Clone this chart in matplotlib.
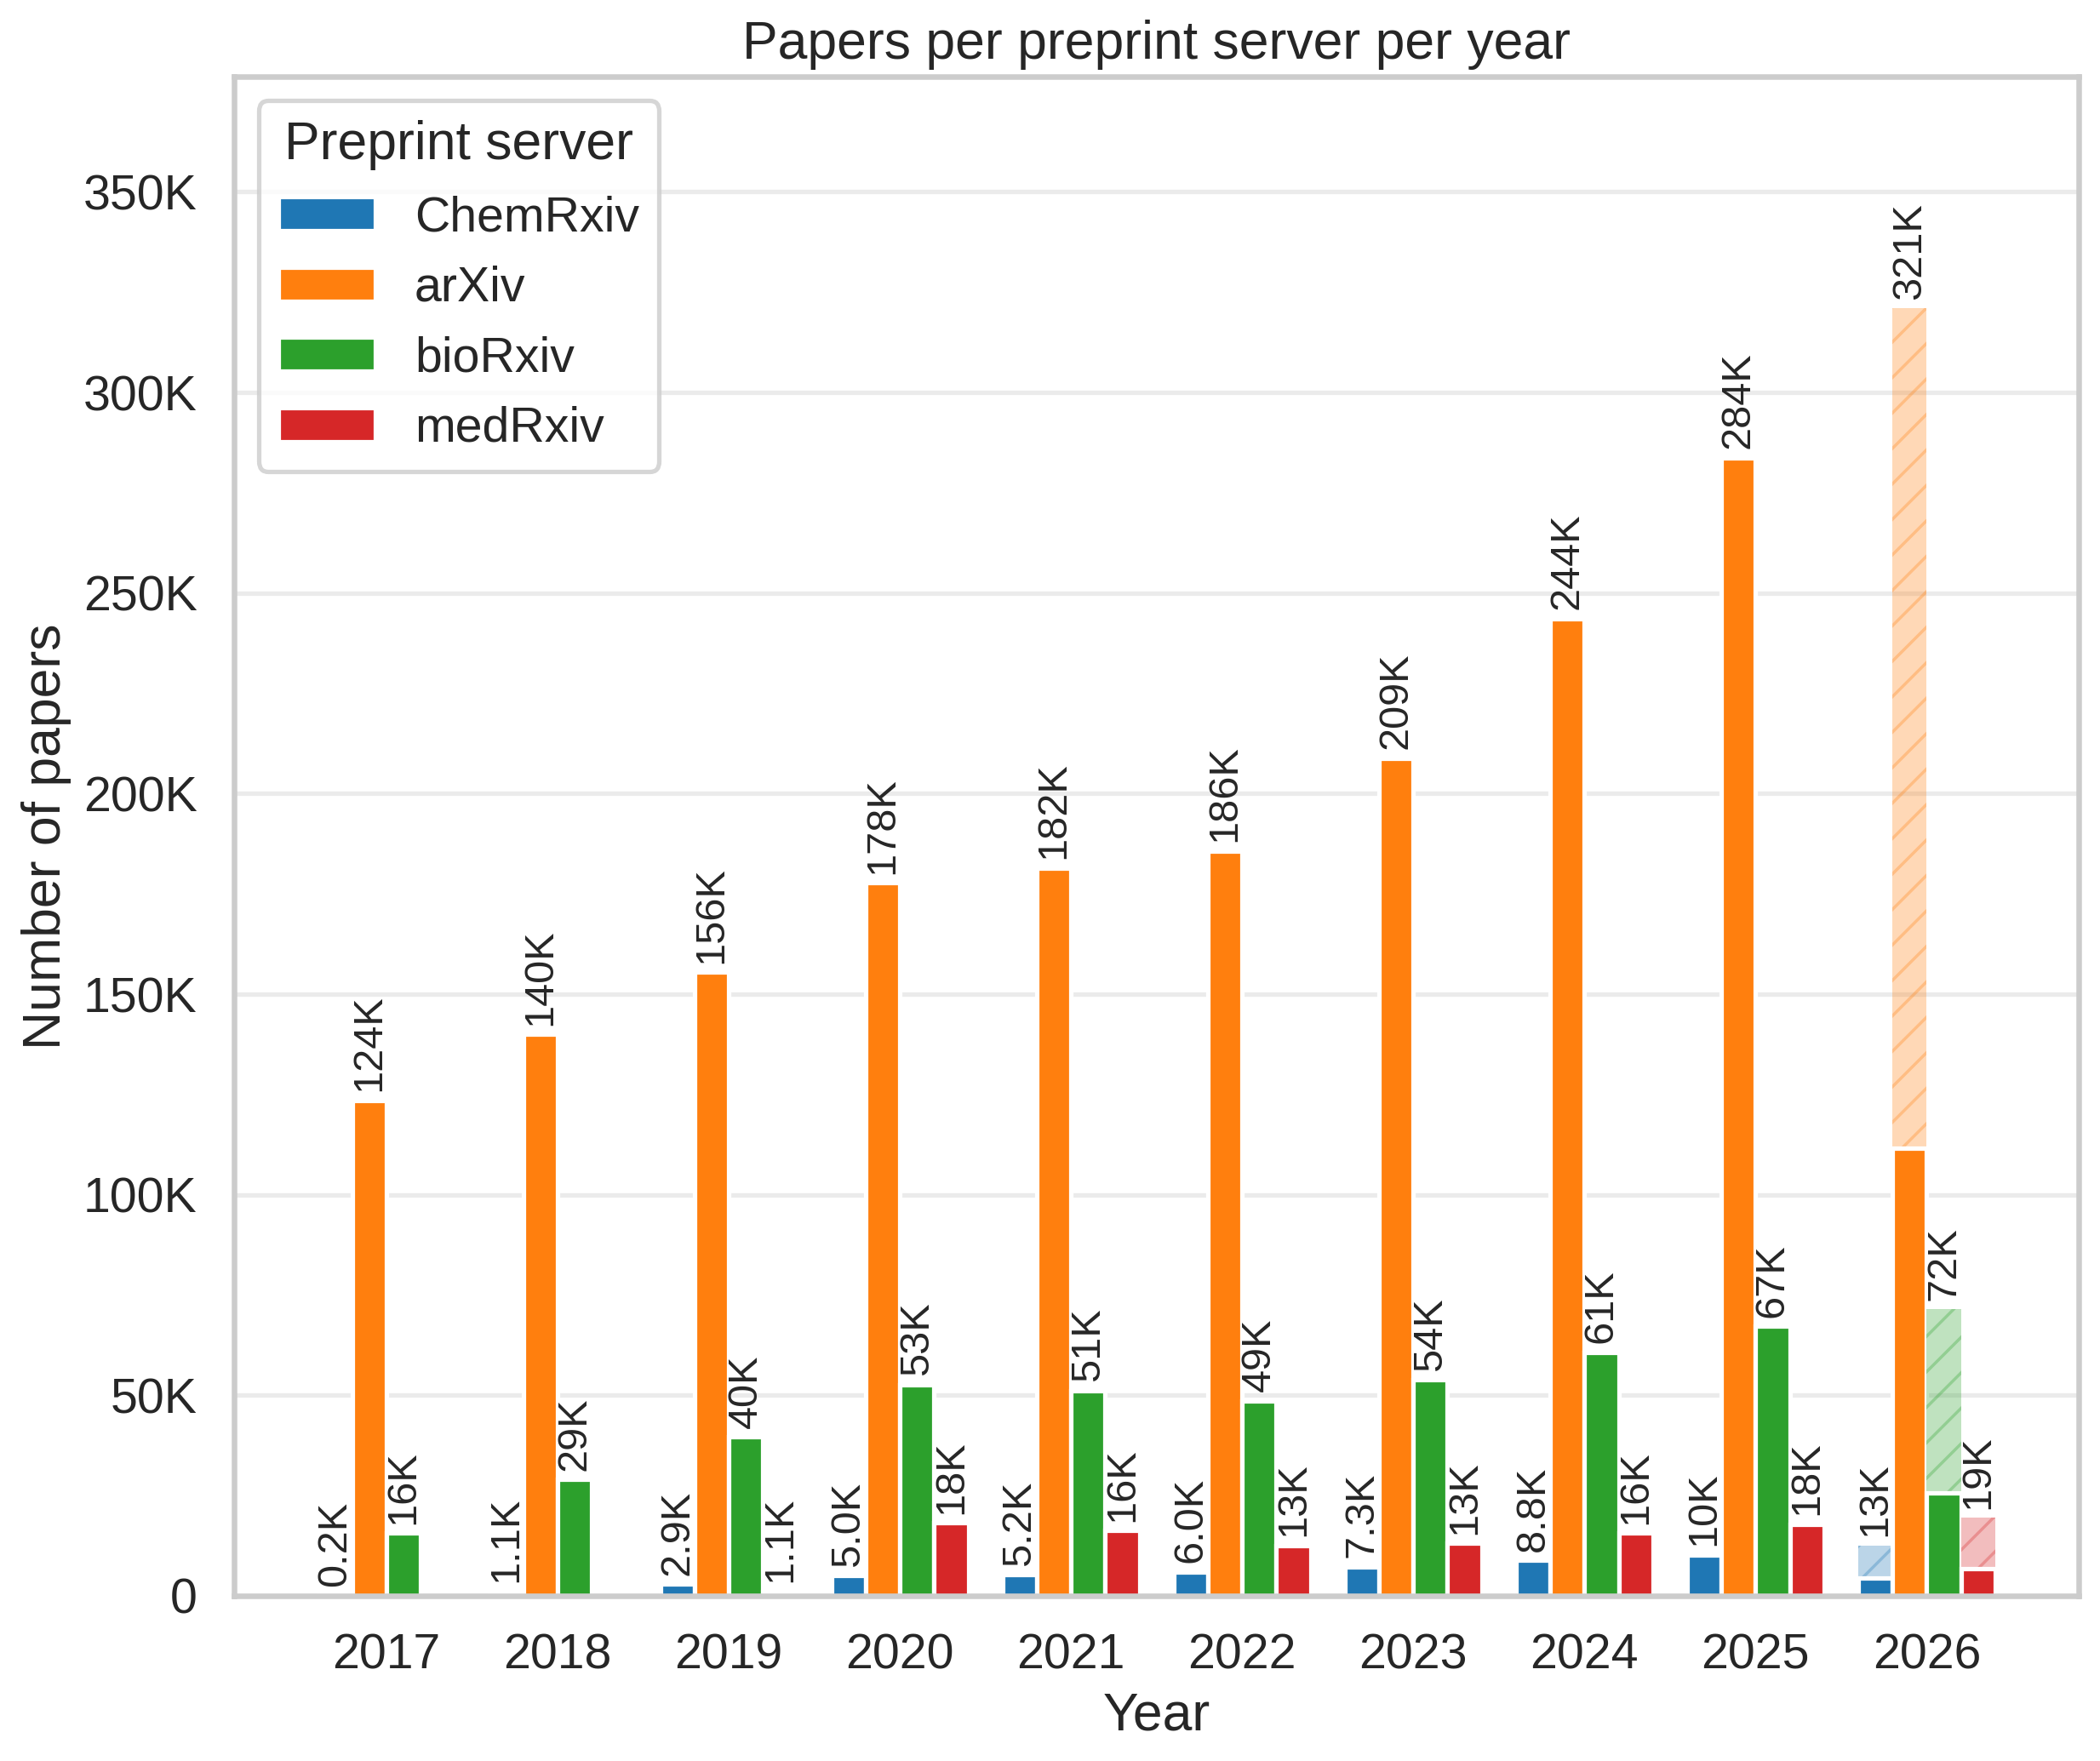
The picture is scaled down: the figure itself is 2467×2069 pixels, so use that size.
import numpy as np
import matplotlib
matplotlib.use("Agg")
import matplotlib.pyplot as plt
from matplotlib.ticker import FuncFormatter
import seaborn as sns

sns.set_theme(style="whitegrid", context="talk")
plt.rcParams['font.family'] = ['Liberation Sans', 'DejaVu Sans']
plt.rcParams['grid.color'] = '#ebebeb'

years = [2017, 2018, 2019, 2020, 2021, 2022, 2023, 2024, 2025, 2026]
servers = ["ChemRxiv", "arXiv", "bioRxiv", "medRxiv"]
colors = ["#1f77b4", "#ff7f0e", "#2ca02c", "#d62728"]

# papers per year (2026 = year to date)
chemrxiv = [200, 1100, 2900, 5000, 5200, 6000, 7300, 8800, 10200, 4500]
arxiv = [123500, 140000, 155500, 177800, 181500, 185700, 208800, 243600, 283700, 111500]
biorxiv = [15600, 29000, 39600, 52700, 51200, 48600, 53800, 60700, 67200, 25700]
medrxiv = [np.nan, np.nan, 1100, 18200, 16300, 12600, 13100, 15700, 17900, 6700]

# projected totals for 2026
projected_2026 = [12600, 321000, 71500, 19400]

series = [chemrxiv, arxiv, biorxiv, medrxiv]


def fmt_k(v):
    if v < 10000:
        return "{:.1f}K".format(v / 1000)
    return "{:.0f}K".format(v / 1000)


fig = plt.figure(figsize=(9.868, 8.276), dpi=250)
ax = fig.add_axes([0.1115, 0.0938, 0.8785, 0.8628])

x = np.arange(len(years))
width = 0.2
for i, (name, vals, c) in enumerate(zip(servers, series, colors)):
    pos = x + (i - 1.5) * width
    # projected bar behind the partial one
    proj = ax.bar(pos[-1:], [projected_2026[i]], width, color=c, alpha=0.3,
                  hatch="//", edgecolor=c, linewidth=0)
    ax.bar_label(proj, [fmt_k(projected_2026[i])], rotation=90, padding=3,
                 fontsize=14, color=".15")
    bars = ax.bar(pos, vals, width, color=c, label=name)
    labels = []
    for j, v in enumerate(vals):
        if np.isnan(v) or j == len(vals) - 1:
            labels.append("")
        else:
            labels.append(fmt_k(v))
    ax.bar_label(bars, labels, rotation=90, padding=3, fontsize=14, color=".15")

ax.set_xticks(x)
ax.set_xticklabels([str(y) for y in years])
ax.set_ylim(0, 321000 * 1.18)
ax.yaxis.set_major_formatter(FuncFormatter(lambda v, p: "0" if v == 0 else "{:.0f}K".format(v / 1000)))
ax.xaxis.grid(False)
ax.set_axisbelow(True)

ax.set_xlabel("Year")
ax.set_ylabel("Number of papers")
ax.set_title("Papers per preprint server per year")
ax.legend(title="Preprint server", loc="upper left")

fig.savefig("out.png", dpi=250)
